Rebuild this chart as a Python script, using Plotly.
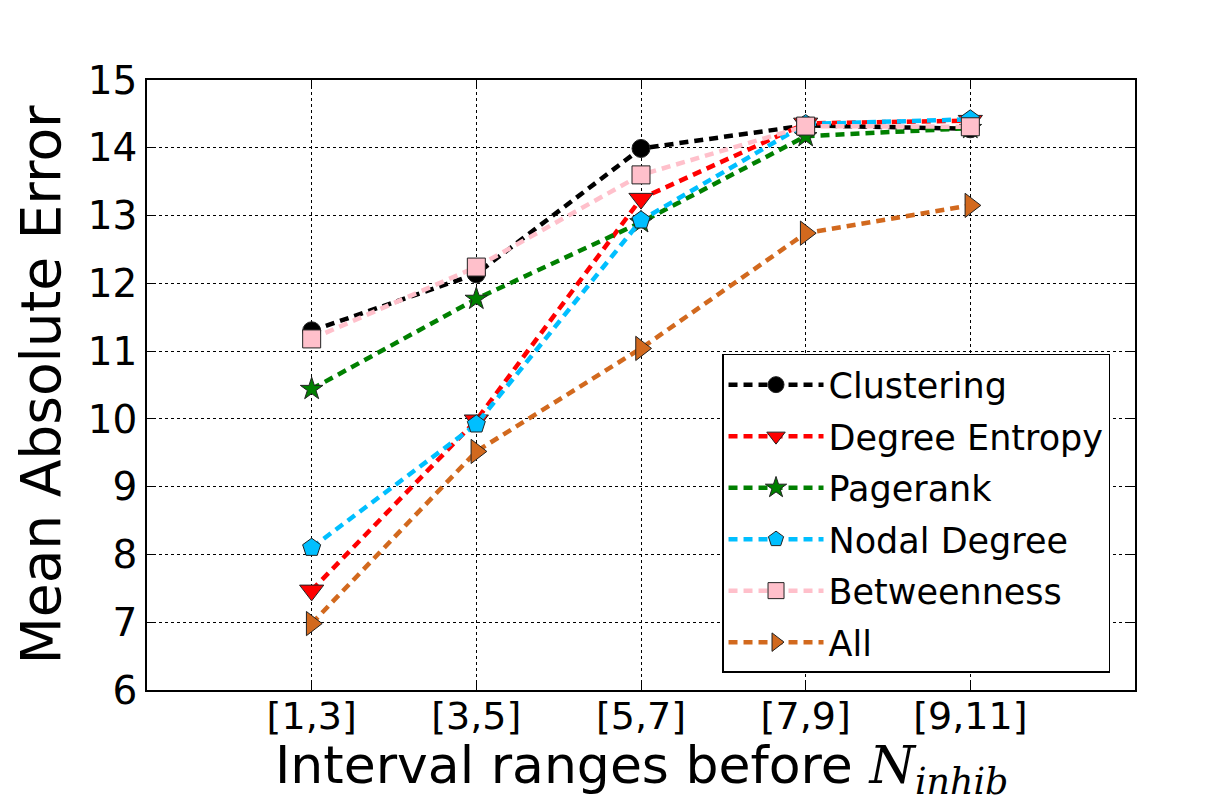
import plotly.graph_objects as go

categories = ["[1,3]", "[3,5]", "[5,7]", "[7,9]", "[9,11]"]
clustering = [11.30, 12.14, 13.99, 14.33, 14.28]
degree_entropy = [7.47, 9.98, 13.25, 14.36, 14.40]
pagerank = [10.44, 11.77, 12.90, 14.17, 14.29]
nodal_degree = [8.10, 9.92, 12.93, 14.35, 14.42]
betweenness = [11.18, 12.24, 13.60, 14.32, 14.31]
all_features = [6.98, 9.52, 11.04, 12.74, 13.15]
y_ticks = list(range(6, 16))

series = [
    ("Clustering", clustering, "black", "circle", 18),
    ("Degree Entropy", degree_entropy, "red", "triangle-down", 21),
    ("Pagerank", pagerank, "green", "star", 17),
    ("Nodal Degree", nodal_degree, "deepskyblue", "pentagon", 19),
    ("Betweenness", betweenness, "pink", "square", 18),
    ("All", all_features, "chocolate", "triangle-right", 21),
]

fig = go.Figure()
xs = list(range(len(categories)))
for i, (name, vals, color, sym, sz) in enumerate(series):
    fig.add_trace(go.Scatter(
        x=xs, y=vals, name=name, mode="lines+markers",
        legendgroup=f"g{i}",
        line=dict(color=color, width=4.5, dash="9px,6px"),
        marker=dict(symbol=sym, size=sz, color=color,
                    line=dict(color="#222", width=1)),
    ))

font = "DejaVu Sans, sans-serif"
xtitle = ("Interval ranges before "
          "<span style=\"font-family:'DejaVu Serif', serif\"><i>N</i>"
          "<sub><i>inhib</i></sub></span>")

fig.update_layout(
    width=1196, height=796,
    margin=dict(l=139, r=69, t=72, b=114),
    paper_bgcolor="white", plot_bgcolor="white",
    font=dict(family=font, color="black", size=28),
    showlegend=True,
    legend=dict(
        x=0.582, y=0.551, xanchor="left", yanchor="top",
        bgcolor="white", bordercolor="black", borderwidth=1.5,
        font=dict(size=35, family=font), tracegroupgap=3,
        itemwidth=95,
    ),
    xaxis=dict(
        range=[-1, 5], tickmode="array", tickvals=xs, ticktext=categories,
        showgrid=True, gridcolor="black", griddash="dot", gridwidth=1,
        showline=True, linecolor="black", linewidth=1.5, mirror="ticks",
        ticks="inside", ticklen=7, tickcolor="black", zeroline=False,
        tickfont=dict(size=38), ticklabelstandoff=-8,
    ),
    yaxis=dict(
        range=[6, 15], tickmode="array", tickvals=y_ticks,
        showgrid=True, gridcolor="black", griddash="dot", gridwidth=1,
        showline=True, linecolor="black", linewidth=1.5, mirror="ticks",
        ticks="inside", ticklen=7, tickcolor="black", zeroline=False,
        tickfont=dict(size=39),
        title=dict(text="Mean Absolute Error", font=dict(size=55), standoff=10),
    ),
    annotations=[dict(
        text=xtitle, xref="paper", yref="paper", x=0.5, y=-0.071,
        xanchor="center", yanchor="top", showarrow=False,
        font=dict(size=52, family=font, color="black"),
    )],
)

fig.write_html("out.html")
